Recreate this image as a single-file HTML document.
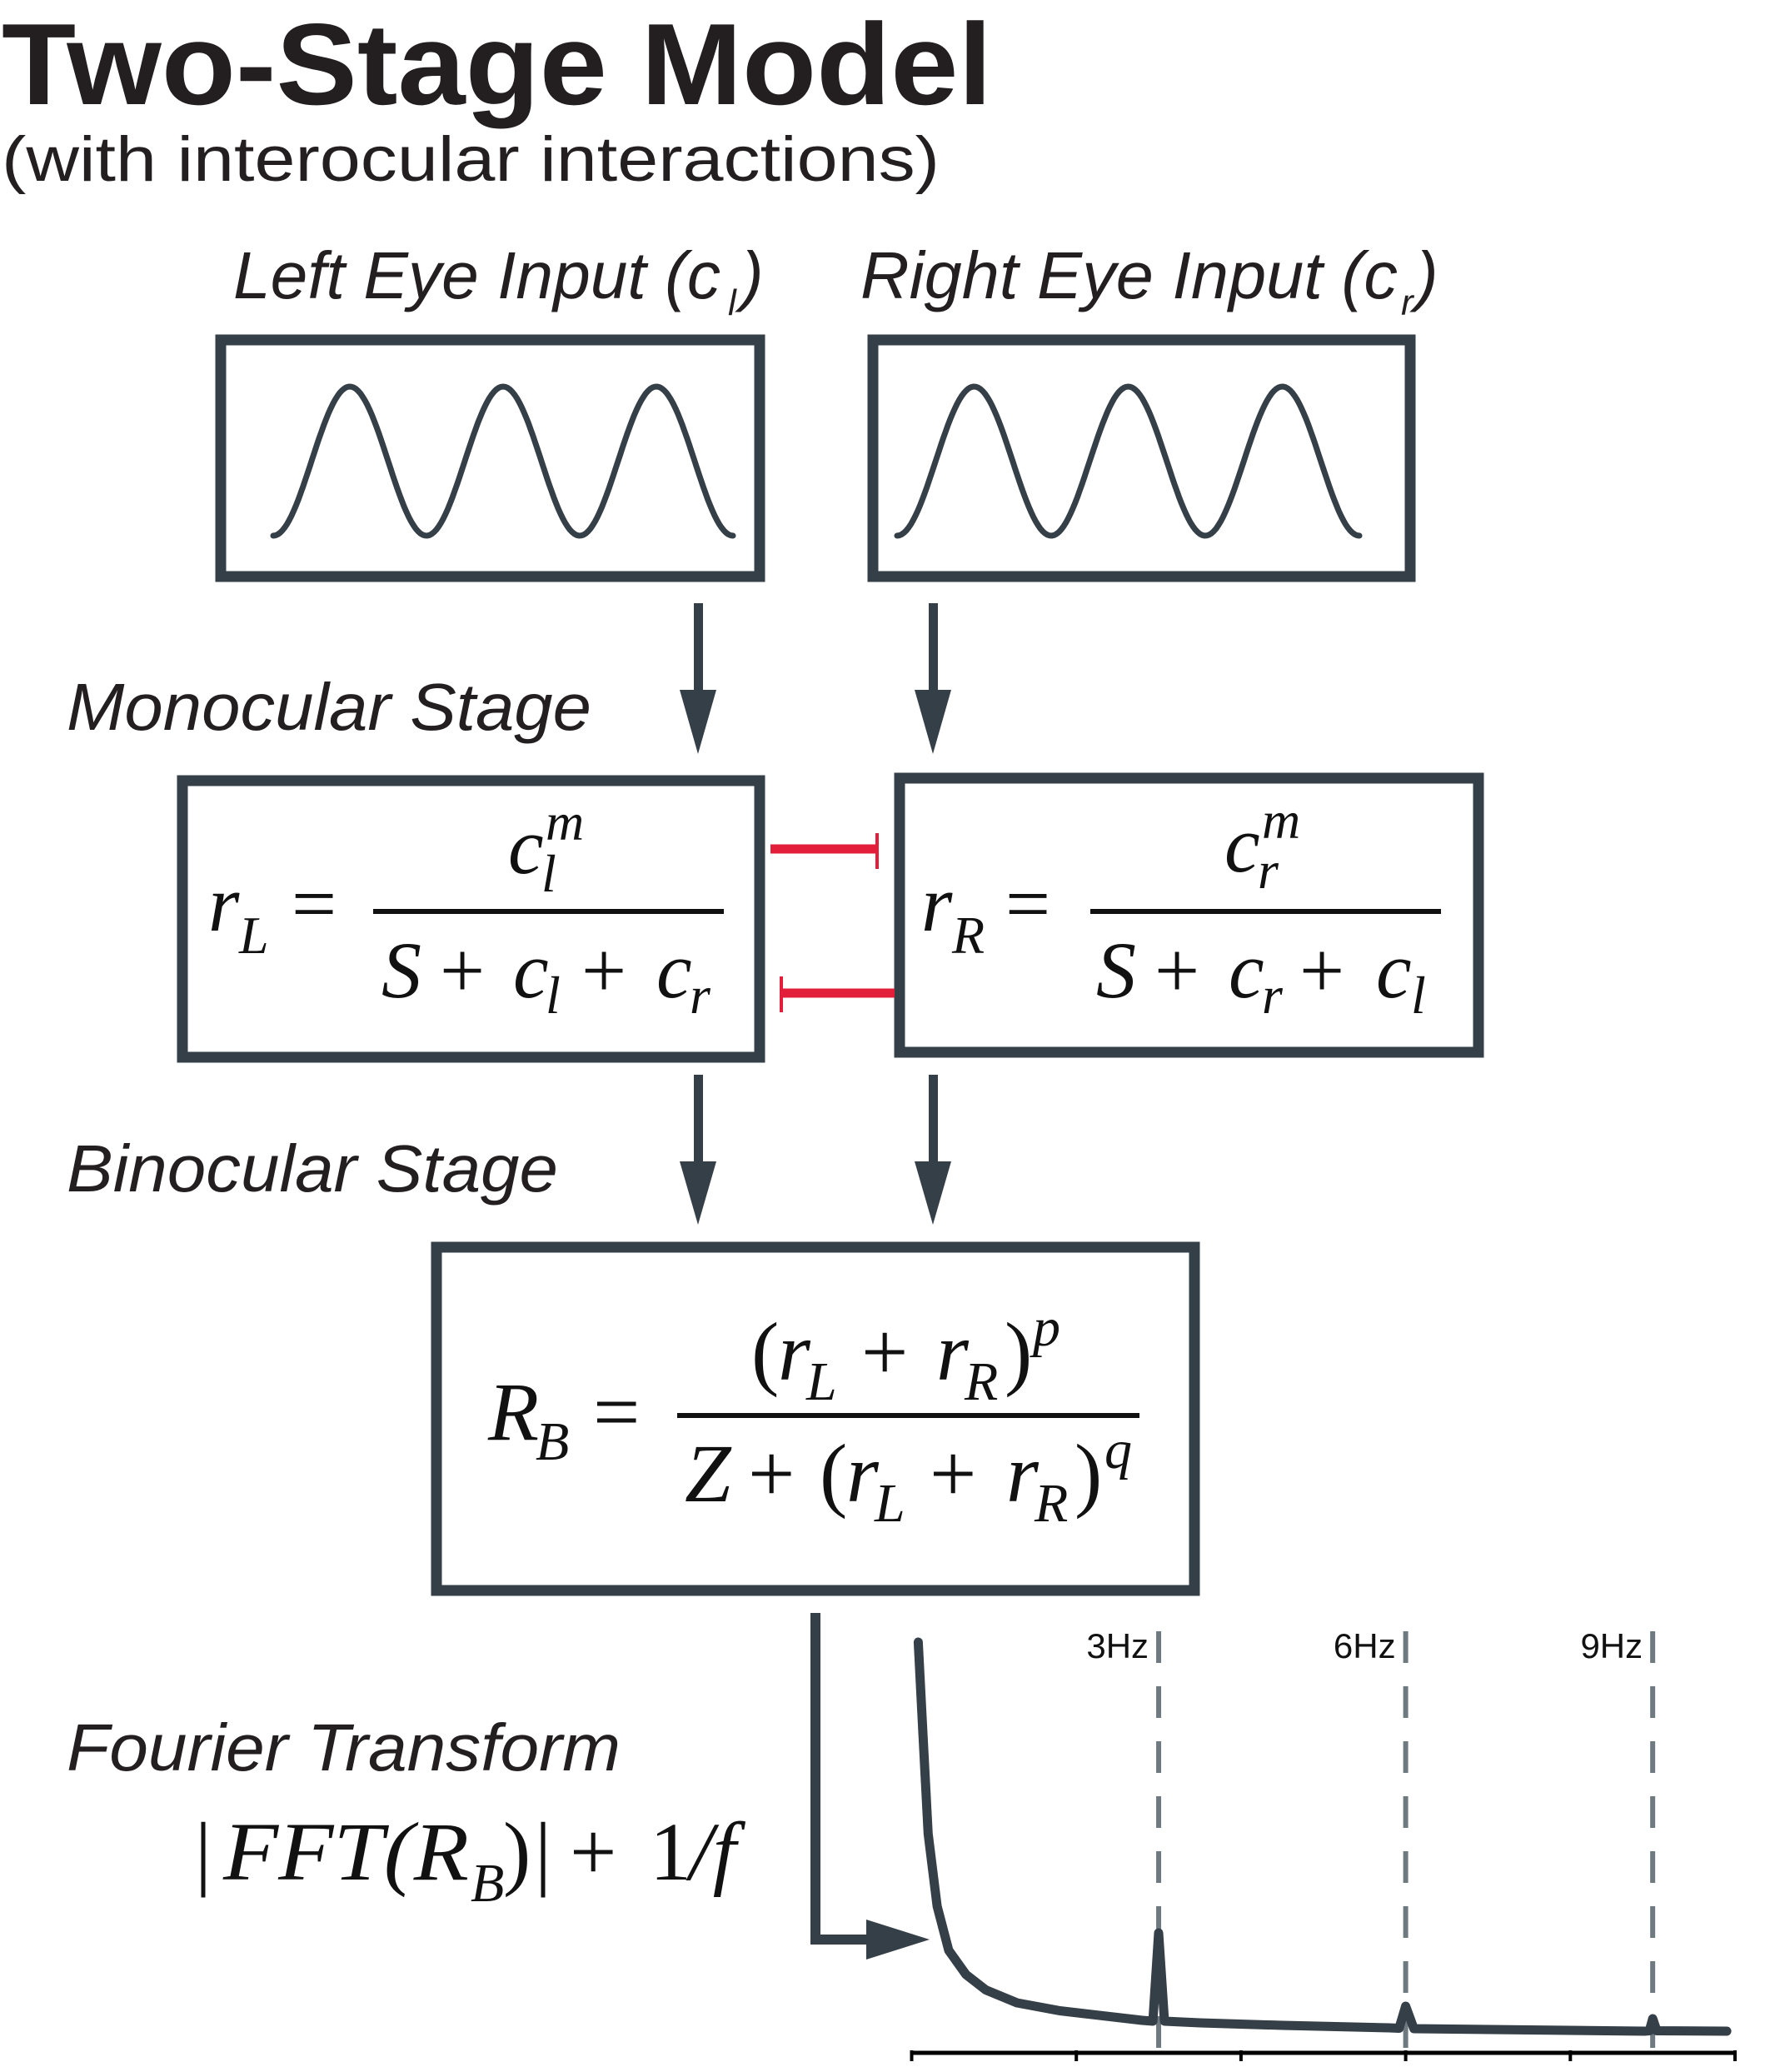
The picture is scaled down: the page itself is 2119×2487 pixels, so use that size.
<!DOCTYPE html>
<html><head><meta charset="utf-8"><style>
html,body{margin:0;padding:0;background:#fff;}
svg{display:block;}
.it{font-family:"Liberation Sans",sans-serif;font-style:italic;fill:#231f20;}
.m{font-family:"Liberation Serif",serif;font-style:italic;fill:#111;}
.mr{font-family:"Liberation Serif",serif;fill:#111;}
</style></head><body>
<svg id="fig" width="2119" height="2487" viewBox="0 0 2119 2487" xmlns="http://www.w3.org/2000/svg">
<text x="2" y="125" font-family="Liberation Sans, sans-serif" font-weight="bold" font-size="139" fill="#231f20" textLength="1189" lengthAdjust="spacingAndGlyphs">Two-Stage Model</text>
<text x="2" y="217" font-family="Liberation Sans, sans-serif" font-size="76" fill="#231f20" textLength="1126" lengthAdjust="spacingAndGlyphs">(with interocular interactions)</text>

<text class="it" x="280" y="358" font-size="80" textLength="585" lengthAdjust="spacingAndGlyphs">Left Eye Input (c</text>
<text class="it" x="874" y="378" font-size="44">l</text>
<text class="it" x="890" y="358" font-size="80">)</text>
<text class="it" x="1033" y="358" font-size="80" textLength="645" lengthAdjust="spacingAndGlyphs">Right Eye Input (c</text>
<text class="it" x="1682" y="378" font-size="44">r</text>
<text class="it" x="1700" y="358" font-size="80">)</text>

<rect x="265" y="408" width="647" height="284" fill="none" stroke="#353f48" stroke-width="13"/>
<rect x="1048" y="408" width="645" height="284" fill="none" stroke="#353f48" stroke-width="13"/>
<path id="sineL" fill="none" stroke="#353f48" stroke-width="7" stroke-linecap="round"/>
<path id="sineR" fill="none" stroke="#353f48" stroke-width="7" stroke-linecap="round"/>

<g fill="#353f48" stroke="none">
<rect x="833" y="724" width="11" height="110"/>
<polygon points="816,828 860,828 838,905"/>
<rect x="1115" y="724" width="11" height="110"/>
<polygon points="1098,828 1142,828 1120,905"/>
<rect x="833" y="1290" width="11" height="110"/>
<polygon points="816,1394 860,1394 838,1470"/>
<rect x="1115" y="1290" width="11" height="110"/>
<polygon points="1098,1394 1142,1394 1120,1470"/>
<rect x="973" y="1936" width="12" height="398"/>
<rect x="973" y="2322" width="80" height="12"/>
<polygon points="1040,2304 1040,2352 1116,2328"/>
</g>

<text class="it" x="80" y="876" font-size="80" textLength="630" lengthAdjust="spacingAndGlyphs">Monocular Stage</text>
<rect x="219" y="937" width="693" height="332" fill="none" stroke="#353f48" stroke-width="13"/>
<rect x="1080" y="934" width="695" height="329" fill="none" stroke="#353f48" stroke-width="13"/>

<g stroke="#e31e3a" fill="none">
<line x1="925" y1="1019" x2="1053" y2="1019" stroke-width="11"/>
<line x1="1053" y1="1000" x2="1053" y2="1043" stroke-width="4"/>
<line x1="936" y1="1192" x2="1074" y2="1192" stroke-width="11"/>
<line x1="938" y1="1172" x2="938" y2="1215" stroke-width="4"/>
</g>

<g>
<text class="m" x="250" y="1117" font-size="96">r</text>
<text class="m" x="287" y="1144" font-size="64">L</text>
<text class="mr" x="350" y="1117" font-size="96">=</text>
<line x1="448" y1="1094" x2="869" y2="1094" stroke="#111" stroke-width="6"/>
<text class="m" x="610" y="1048" font-size="96">c</text>
<text class="m" x="650" y="1070" font-size="64">l</text>
<text class="m" x="655" y="1008" font-size="64">m</text>
<text class="m" x="458" y="1197" font-size="96">S</text>
<text class="mr" x="528" y="1197" font-size="96">+</text>
<text class="m" x="616" y="1197" font-size="96">c</text>
<text class="m" x="655" y="1216" font-size="64">l</text>
<text class="mr" x="698" y="1197" font-size="96">+</text>
<text class="m" x="788" y="1197" font-size="96">c</text>
<text class="m" x="828" y="1216" font-size="64">r</text>
</g>

<g>
<text class="m" x="1106" y="1117" font-size="96">r</text>
<text class="m" x="1143" y="1144" font-size="64">R</text>
<text class="mr" x="1207" y="1117" font-size="96">=</text>
<line x1="1309" y1="1094" x2="1730" y2="1094" stroke="#111" stroke-width="6"/>
<text class="m" x="1470" y="1046" font-size="96">c</text>
<text class="m" x="1510" y="1066" font-size="64">r</text>
<text class="m" x="1515" y="1006" font-size="64">m</text>
<text class="m" x="1316" y="1197" font-size="96">S</text>
<text class="mr" x="1386" y="1197" font-size="96">+</text>
<text class="m" x="1475" y="1197" font-size="96">c</text>
<text class="m" x="1515" y="1216" font-size="64">r</text>
<text class="mr" x="1560" y="1197" font-size="96">+</text>
<text class="m" x="1652" y="1197" font-size="96">c</text>
<text class="m" x="1694" y="1216" font-size="64">l</text>
</g>

<text class="it" x="80" y="1430" font-size="80" textLength="590" lengthAdjust="spacingAndGlyphs">Binocular Stage</text>
<rect x="524" y="1497" width="910" height="412" fill="none" stroke="#353f48" stroke-width="13"/>

<g>
<text class="m" x="586" y="1728" font-size="100">R</text>
<text class="m" x="643" y="1752" font-size="66">B</text>
<text class="mr" x="712" y="1728" font-size="100">=</text>
<line x1="813" y1="1699" x2="1368" y2="1699" stroke="#111" stroke-width="6"/>
<text class="mr" x="902" y="1656" font-size="100">(</text>
<text class="m" x="934" y="1656" font-size="100">r</text>
<text class="m" x="968" y="1680" font-size="66">L</text>
<text class="mr" x="1034" y="1656" font-size="100">+</text>
<text class="m" x="1124" y="1656" font-size="100">r</text>
<text class="m" x="1158" y="1680" font-size="66">R</text>
<text class="mr" x="1206" y="1656" font-size="100">)</text>
<text class="m" x="1240" y="1615" font-size="66">p</text>
<text class="m" x="822" y="1802" font-size="100">Z</text>
<text class="mr" x="898" y="1802" font-size="100">+</text>
<text class="mr" x="984" y="1802" font-size="100">(</text>
<text class="m" x="1016" y="1802" font-size="100">r</text>
<text class="m" x="1050" y="1826" font-size="66">L</text>
<text class="mr" x="1116" y="1802" font-size="100">+</text>
<text class="m" x="1208" y="1802" font-size="100">r</text>
<text class="m" x="1242" y="1826" font-size="66">R</text>
<text class="mr" x="1290" y="1802" font-size="100">)</text>
<text class="m" x="1326" y="1762" font-size="66">q</text>
</g>

<text class="it" x="80" y="2125" font-size="80" textLength="665" lengthAdjust="spacingAndGlyphs">Fourier Transform</text>
<g>
<text class="mr" x="234" y="2256" font-size="100">|</text>
<text class="m" x="268" y="2256" font-size="100" textLength="295" lengthAdjust="spacingAndGlyphs">FFT(R</text>
<text class="m" x="565" y="2282" font-size="66">B</text>
<text class="mr" x="604" y="2256" font-size="100">)</text>
<text class="mr" x="642" y="2256" font-size="100">|</text>
<text class="mr" x="684" y="2256" font-size="100">+</text>
<text class="mr" x="780" y="2256" font-size="100">1</text>
<text class="m" x="828" y="2256" font-size="100">/f</text>
</g>

<g id="chart"></g>
</svg>
<script>
const freqs = [0.08, 0.14, 0.2, 0.31, 0.45, 0.66, 0.9, 1.28, 1.8, 2.8, 2.93, 3.0, 3.07, 3.5, 4.5, 5.8, 5.92, 6.0, 6.1, 7.5, 8.9, 8.96, 9.0, 9.05, 9.9];
const amps  = [98, 75, 52, 34.6, 24, 18.2, 14.5, 11.4, 9.5, 7.2, 7.0, 28.2, 7.0, 6.6, 6.0, 5.4, 5.3, 10.6, 5.2, 4.9, 4.6, 4.7, 7.6, 4.7, 4.6];
const harmonicFreqs = [3, 6, 9];
const harmonicLabels = ["3Hz", "6Hz", "9Hz"];
const tickValues = [0, 2, 4, 6, 8, 10];

const NS = "http://www.w3.org/2000/svg";
const X0 = 1094.5, X1 = 2083, Y0 = 2461, YS = 5;
function xScale(f){ return X0 + (X1 - X0) * f / 10; }
function yScale(a){ return Y0 - a * YS; }
const chart = document.getElementById("chart");
function mk(tag, attrs){ const e = document.createElementNS(NS, tag); for (const k in attrs) e.setAttribute(k, attrs[k]); chart.appendChild(e); return e; }

function sine(x0, x1, yTop, yBot){
  let d = ""; const n = 200;
  for (let i = 0; i <= n; i++){ const t = i / n; const x = x0 + (x1 - x0) * t;
    const y = yBot - (yBot - yTop) * (1 - Math.cos(t * 6 * Math.PI)) / 2;
    d += (i ? "L" : "M") + x.toFixed(1) + "," + y.toFixed(1); }
  return d;
}
document.getElementById("sineL").setAttribute("d", sine(328, 880, 464, 643));
document.getElementById("sineR").setAttribute("d", sine(1077, 1632, 464, 643));

harmonicFreqs.forEach((f, i) => {
  const l = mk("line", {x1: xScale(f), y1: 1958, x2: xScale(f), y2: Y0, stroke: "#6f7a80", "stroke-width": 6, "stroke-dasharray": "38 28", "stroke-linecap": "butt"});
  
  
  const t = mk("text", {x: xScale(f) - 12, y: 1990, "text-anchor": "end", "font-family": "Liberation Sans, sans-serif", "font-size": 42, fill: "#111"});
  t.textContent = harmonicLabels[i];
  
  
});

let d = "";
freqs.forEach((f, i) => { d += (i ? "L" : "M") + xScale(f).toFixed(1) + "," + yScale(amps[i]).toFixed(1); });
const p = mk("path", {d: d, fill: "none", stroke: "#353f48", "stroke-width": 11, "stroke-linecap": "round", "stroke-linejoin": "round"});



const ax = mk("line", {x1: X0, y1: Y0 + 3, x2: X1, y2: Y0 + 3, stroke: "#000", "stroke-width": 5});


tickValues.forEach(v => {
  const tk = mk("line", {x1: xScale(v), y1: Y0, x2: xScale(v), y2: Y0 + 13, stroke: "#000", "stroke-width": 4});
  
  
});
</script>
</body></html>
